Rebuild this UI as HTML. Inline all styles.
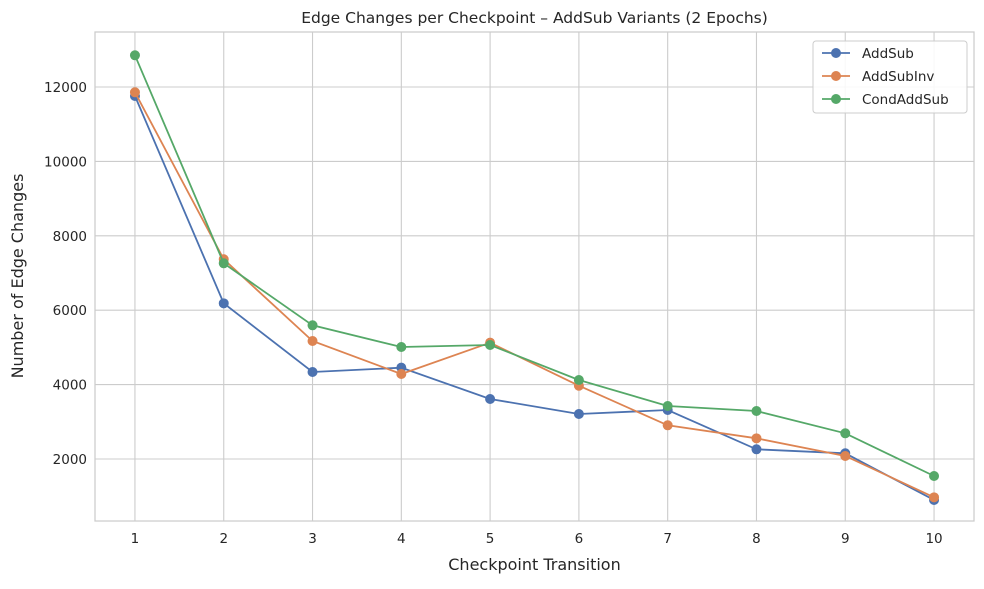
<!DOCTYPE html>
<html><head><meta charset="utf-8"><style>
body{margin:0;background:#fff;font-family:"Liberation Sans","DejaVu Sans",sans-serif}
</style></head><body>
<svg id="chart" width="984" height="584" xmlns="http://www.w3.org/2000/svg" font-family="'DejaVu Sans','Liberation Sans',sans-serif">
<g id="grid"></g>
<rect x="95" y="32" width="879" height="489" fill="none" stroke="#cccccc" stroke-width="1.25"/>
<g id="axes"></g>
<g id="series"></g>
<text x="534.5" y="23" text-anchor="middle" font-size="15.5" fill="#262626">Edge Changes per Checkpoint – AddSub Variants (2 Epochs)</text>
<text x="534.5" y="570" text-anchor="middle" font-size="16" fill="#262626">Checkpoint Transition</text>
<text transform="translate(23,276) rotate(-90)" text-anchor="middle" font-size="16" fill="#262626">Number of Edge Changes</text>
<g id="legend"></g>
</svg>
<script>
const categories=[1,2,3,4,5,6,7,8,9,10];
const addSub=[11758,6185,4339,4455,3613,3210,3317,2261,2153,898];
const addSubInv=[11858,7368,5172,4285,5127,3970,2906,2556,2081,970];
const condAddSub=[12852,7261,5594,5011,5065,4124,3425,3290,2691,1543];
const yTicks=[2000,4000,6000,8000,10000,12000];
const seriesNames=["AddSub","AddSubInv","CondAddSub"];
const colors=["#4c72b0","#dd8452","#55a868"];
const NS="http://www.w3.org/2000/svg";
const L=95,R=974,T=32,B=521;
function xs(v){return L+(v-0.55)/9.9*(R-L);}
function ys(v){return 533.4-v*0.0372;}
function mk(tag,attrs,parent){const e=document.createElementNS(NS,tag);for(const k in attrs)e.setAttribute(k,attrs[k]);parent.appendChild(e);return e;}
const grid=document.getElementById('grid'),axes=document.getElementById('axes'),ser=document.getElementById('series'),leg=document.getElementById('legend');
categories.forEach(c=>{
 const g=mk('line',{x1:xs(c),x2:xs(c),y1:T,y2:B,stroke:'#cccccc','stroke-width':1.1},grid);
 
 
 const t=mk('text',{x:xs(c),y:B+22,'text-anchor':'middle','font-size':13.5,fill:'#262626'},axes);
 t.textContent=c;
 
 
});
yTicks.forEach(v=>{
 const g=mk('line',{x1:L,x2:R,y1:ys(v),y2:ys(v),stroke:'#cccccc','stroke-width':1.1},grid);
 
 
 const t=mk('text',{x:L-8,y:ys(v)+5,'text-anchor':'end','font-size':13.5,fill:'#262626'},axes);
 t.textContent=v;
 
 
});
[addSub,addSubInv,condAddSub].forEach((d,i)=>{
 const p=mk('polyline',{points:d.map((v,j)=>xs(categories[j])+','+ys(v)).join(' '),fill:'none',stroke:colors[i],'stroke-width':1.8},ser);
 
 
 d.forEach((v,j)=>{
  const c=mk('circle',{cx:xs(categories[j]),cy:ys(v),r:5,fill:colors[i]},ser);
  
  
 });
});
const box=mk('rect',{x:813,y:41,width:154,height:72,rx:3,fill:'#fff','fill-opacity':0.85,stroke:'#cccccc'},leg);


seriesNames.forEach((n,i)=>{
 const y=53+i*23;
 const l=mk('line',{x1:822,x2:850,y1:y,y2:y,stroke:colors[i],'stroke-width':1.8},leg);
 
 
 const c=mk('circle',{cx:836,cy:y,r:5,fill:colors[i]},leg);
 
 
 const t=mk('text',{x:862,y:y+5,'font-size':13.5,fill:'#262626'},leg);
 t.textContent=n;
 
 
});
</script>
</body></html>
